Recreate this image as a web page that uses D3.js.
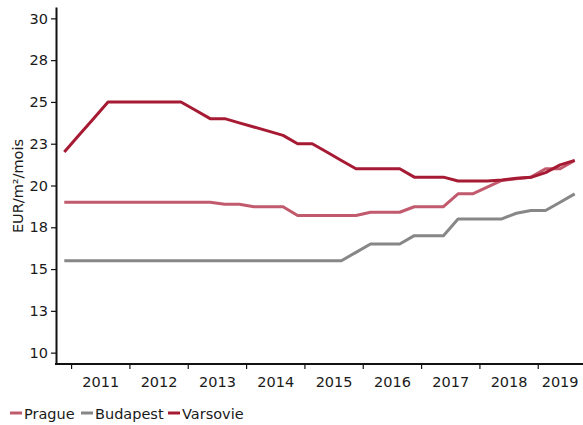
<!DOCTYPE html>
<html>
<head>
<meta charset="utf-8">
<script src="https://cdn.jsdelivr.net/npm/d3@7"></script>
<style>
    body { margin: 0; background: #fff; }
    #chart-area text { font-family: "DejaVu Sans", sans-serif; fill: #1a1a1a; }
</style>
</head>
<body>
<div id="chart-area"></div>
<script>

// quarterly data, T4 2010 -> T3 2019
var quarters = [
    "2010T4",
    "2011T1", "2011T2", "2011T3", "2011T4",
    "2012T1", "2012T2", "2012T3", "2012T4",
    "2013T1", "2013T2", "2013T3", "2013T4",
    "2014T1", "2014T2", "2014T3", "2014T4",
    "2015T1", "2015T2", "2015T3", "2015T4",
    "2016T1", "2016T2", "2016T3", "2016T4",
    "2017T1", "2017T2", "2017T3", "2017T4",
    "2018T1", "2018T2", "2018T3", "2018T4",
    "2019T1", "2019T2", "2019T3"
];

var years = ["2011", "2012", "2013", "2014", "2015", "2016", "2017", "2018", "2019"];

var prague = [
    19.0,
    19.0, 19.0, 19.0, 19.0,
    19.0, 19.0, 19.0, 19.0,
    19.0, 19.0, 18.88, 18.88,
    18.73, 18.73, 18.73, 18.2,
    18.2, 18.2, 18.2, 18.2,
    18.4, 18.4, 18.4, 18.73,
    18.73, 18.73, 19.5, 19.5,
    19.9, 20.3, 20.4, 20.5,
    21.0, 21.0, 21.5
];

var budapest = [
    15.5,
    15.5, 15.5, 15.5, 15.5,
    15.5, 15.5, 15.5, 15.5,
    15.5, 15.5, 15.5, 15.5,
    15.5, 15.5, 15.5, 15.5,
    15.5, 15.5, 15.5, 16.0,
    16.5, 16.5, 16.5, 17.0,
    17.0, 17.0, 18.0, 18.0,
    18.0, 18.0, 18.34, 18.5,
    18.5, 19.0, 19.5
];

var varsovie = [
    22.0,
    23.0, 24.0, 25.0, 25.0,
    25.0, 25.0, 25.0, 25.0,
    24.5, 24.0, 24.0, 23.75,
    23.5, 23.25, 23.0, 22.5,
    22.5, 22.0, 21.5, 21.0,
    21.0, 21.0, 21.0, 20.5,
    20.5, 20.5, 20.27, 20.27,
    20.27, 20.33, 20.43, 20.49,
    20.77, 21.23, 21.5
];

var seriesNames = ["Prague", "Budapest", "Varsovie"];
var seriesColors = ["#c25a6d", "#878787", "#a61b33"];

var yTicks = [10, 12.5, 15, 17.5, 20, 22.5, 25, 27.5, 30];
var yTickLabels = ["10", "13", "15", "18", "20", "23", "25", "28", "30"];

var yTitle = "EUR/m²/mois";


/*
 * LineChart - Object constructor function
 */
LineChart = function(_parentElement){
    this.parentElement = _parentElement;
    this.series = [prague, budapest, varsovie];
    this.initVis();
}

LineChart.prototype.initVis = function(){
    var vis = this;

    vis.width = 583;
    vis.height = 425;

    vis.svg = d3.select("#" + vis.parentElement).append("svg")
        .attr("width", vis.width)
        .attr("height", vis.height);

    // plot box
    vis.left = 56;
    vis.right = 582;
    vis.top = 7;
    vis.bottom = 364;

    vis.x = d3.scaleBand()
        .domain(quarters)
        .range([vis.left + 1, vis.right])
        .padding(0);

    vis.y = d3.scaleLinear()
        .domain([9.32, 30.68])
        .range([vis.bottom, vis.top]);

    vis.line = d3.line()
        .x(function(d, i) { return vis.x(quarters[i]) + vis.x.bandwidth() / 2; })
        .y(function(d) { return vis.y(d); });

    vis.updateVis();
}

LineChart.prototype.updateVis = function(){
    var vis = this;

    // y axis
    var yAxis = d3.axisLeft(vis.y)
        .tickValues(yTicks)
        .tickFormat(function(d, i) { return yTickLabels[i]; })
        .tickSizeInner(5)
        .tickSizeOuter(0)
        .tickPadding(3);

    var gy = vis.svg.append("g")
        .attr("transform", "translate(" + vis.left + ",0)")
        .call(yAxis);
    gy.select(".domain").attr("stroke", "#111").attr("stroke-width", 2);
    gy.selectAll(".tick line").attr("stroke", "#111").attr("stroke-width", 1.2);
    gy.selectAll(".tick text")
        .style("font-size", "14.5px")
        .attr("fill", "#1a1a1a");

    // x axis (year boundaries as ticks, year labels centred on their quarters)
    var gx = vis.svg.append("g").attr("class", "x-axis");

    gx.append("line")
        .attr("x1", vis.left - 1).attr("x2", vis.width)
        .attr("y1", vis.bottom).attr("y2", vis.bottom)
        .attr("stroke", "#111")
        .attr("stroke-width", 2);

    gx.selectAll(".xtick")
        .data(years)
        .enter().append("line")
        .attr("class", "xtick")
        .attr("x1", function(d) { return vis.x(d + "T1"); })
        .attr("x2", function(d) { return vis.x(d + "T1"); })
        .attr("y1", vis.bottom)
        .attr("y2", vis.bottom + 5)
        .attr("stroke", "#111")
        .attr("stroke-width", 1.2);

    gx.selectAll(".xlabel")
        .data(years)
        .enter().append("text")
        .attr("class", "xlabel")
        .attr("x", function(d) {
            var qs = quarters.filter(function(q) { return q.slice(0, 4) === d; });
            return (vis.x(qs[0]) + vis.x(qs[qs.length - 1]) + vis.x.bandwidth()) / 2;
        })
        .attr("y", vis.bottom + 23)
        .attr("text-anchor", "middle")
        .style("font-size", "14.5px")
        .text(function(d) { return d; });

    // y title
    vis.svg.append("text")
        .attr("transform", "translate(23,186) rotate(-90)")
        .attr("text-anchor", "middle")
        .style("font-size", "14.5px")
        .text(yTitle);

    // lines
    vis.svg.selectAll(".series")
        .data(vis.series)
        .enter().append("path")
        .attr("class", "series")
        .attr("d", vis.line)
        .attr("fill", "none")
        .attr("stroke", function(d, i) { return seriesColors[i]; })
        .attr("stroke-width", 3)
        .attr("stroke-linejoin", "round");

    // legend
    var legendX = [10, 81, 168];
    var lg = vis.svg.selectAll(".legend")
        .data(seriesNames)
        .enter().append("g")
        .attr("class", "legend")
        .attr("transform", function(d, i) { return "translate(" + legendX[i] + ",413)"; });

    lg.append("line")
        .attr("x1", 0).attr("x2", 12)
        .attr("stroke", function(d, i) { return seriesColors[i]; })
        .attr("stroke-width", 3);

    lg.append("text")
        .attr("x", 14)
        .attr("y", 5.5)
        .style("font-size", "14.5px")
        .text(function(d) { return d; });
}

var chart = new LineChart("chart-area");

</script>
</body>
</html>
